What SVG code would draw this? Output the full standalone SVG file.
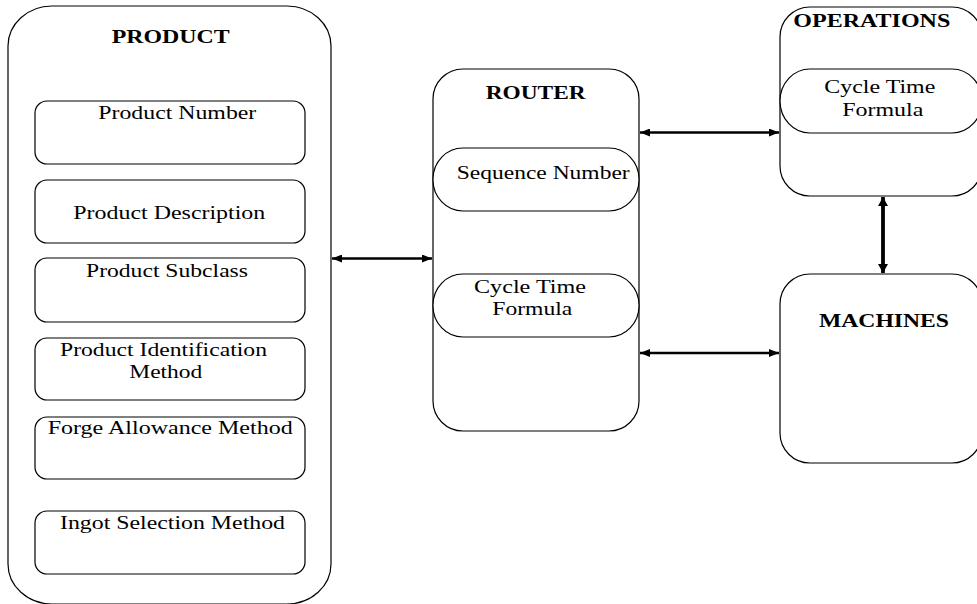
<svg xmlns="http://www.w3.org/2000/svg" width="977" height="604" viewBox="0 0 977 604">
<style>
.box{fill:#fff;stroke:#000;stroke-width:1.2}
.t{font-family:"Liberation Serif","Times New Roman",serif;font-size:18.5px;fill:#000}
.b{font-weight:bold;font-size:19px}
.c{stroke:#000;stroke-width:2.6;fill:none}
</style>
<defs>
<marker id="ah" viewBox="0 0 10 8" refX="10" refY="4" markerWidth="10" markerHeight="8" markerUnits="userSpaceOnUse" orient="auto-start-reverse">
<path d="M0,0 L10,4 L0,8 Z" fill="#000"/>
</marker>
<marker id="ahv" viewBox="0 0 9 10" refX="9" refY="5" markerWidth="9" markerHeight="10" markerUnits="userSpaceOnUse" orient="auto-start-reverse">
<path d="M0,0 L9,5 L0,10 Z" fill="#000"/>
</marker>
</defs>
<rect width="977" height="604" fill="#fff"/>
<g id="product">
<rect class="box" x="8" y="6" width="323" height="598" rx="44" ry="40"/>
<text class="t b" x="111.7" y="43.3" textLength="118" lengthAdjust="spacingAndGlyphs">PRODUCT</text>
</g>
<g id="product-number">
<rect class="box" x="35" y="101" width="270" height="63" rx="12"/>
<text class="t" x="98.3" y="119" textLength="158" lengthAdjust="spacingAndGlyphs">Product Number</text>
</g>
<g id="product-description">
<rect class="box" x="35" y="180" width="270" height="63" rx="12"/>
<text class="t" x="73.3" y="219" textLength="192" lengthAdjust="spacingAndGlyphs">Product Description</text>
</g>
<g id="product-subclass">
<rect class="box" x="35" y="258" width="270" height="64" rx="12"/>
<text class="t" x="86" y="277" textLength="162" lengthAdjust="spacingAndGlyphs">Product Subclass</text>
</g>
<g id="product-identification">
<rect class="box" x="35" y="338" width="270" height="62" rx="12"/>
<text class="t" x="60" y="355.7" textLength="207" lengthAdjust="spacingAndGlyphs">Product Identification</text>
<text class="t" x="129.3" y="378.3" textLength="73" lengthAdjust="spacingAndGlyphs">Method</text>
</g>
<g id="forge-allowance">
<rect class="box" x="35" y="417" width="270" height="62" rx="12"/>
<text class="t" x="47.7" y="434" textLength="245" lengthAdjust="spacingAndGlyphs">Forge Allowance Method</text>
</g>
<g id="ingot-selection">
<rect class="box" x="35" y="511" width="270" height="63" rx="12"/>
<text class="t" x="60" y="529" textLength="225" lengthAdjust="spacingAndGlyphs">Ingot Selection Method</text>
</g>
<g id="router">
<rect class="box" x="433" y="69" width="206" height="362" rx="30"/>
<text class="t b" x="485.7" y="99.3" textLength="100" lengthAdjust="spacingAndGlyphs">ROUTER</text>
</g>
<g id="sequence-number">
<rect class="box" x="433" y="148" width="206" height="63" rx="30" ry="31"/>
<text class="t" x="456.7" y="179" textLength="173" lengthAdjust="spacingAndGlyphs">Sequence Number</text>
</g>
<g id="router-cycle-time">
<rect class="box" x="433" y="274" width="206" height="63" rx="30" ry="31"/>
<text class="t" x="474" y="293.3" textLength="112" lengthAdjust="spacingAndGlyphs">Cycle Time</text>
<text class="t" x="492.3" y="315" textLength="80" lengthAdjust="spacingAndGlyphs">Formula</text>
</g>
<g id="operations">
<rect class="box" x="780" y="7" width="202" height="189" rx="30"/>
<text class="t b" x="793.3" y="26.7" textLength="157" lengthAdjust="spacingAndGlyphs">OPERATIONS</text>
</g>
<g id="operations-cycle-time">
<rect class="box" x="780" y="69" width="202" height="64" rx="30" ry="32"/>
<text class="t" x="824.3" y="93.3" textLength="111" lengthAdjust="spacingAndGlyphs">Cycle Time</text>
<text class="t" x="842.3" y="115.7" textLength="81" lengthAdjust="spacingAndGlyphs">Formula</text>
</g>
<g id="machines">
<rect class="box" x="780" y="274" width="202" height="189" rx="30"/>
<text class="t b" x="819" y="326.7" textLength="130" lengthAdjust="spacingAndGlyphs">MACHINES</text>
</g>
<g id="connectors">
<line class="c" x1="332" y1="258.5" x2="432" y2="258.5" marker-start="url(#ah)" marker-end="url(#ah)"/>
<line class="c" x1="640" y1="132.5" x2="779" y2="132.5" marker-start="url(#ah)" marker-end="url(#ah)"/>
<line class="c" x1="640" y1="353" x2="779" y2="353" marker-start="url(#ah)" marker-end="url(#ah)"/>
<line class="c" x1="883" y1="197" x2="883" y2="273" style="stroke-width:3.8" marker-start="url(#ahv)" marker-end="url(#ahv)"/>
</g>
</svg>
